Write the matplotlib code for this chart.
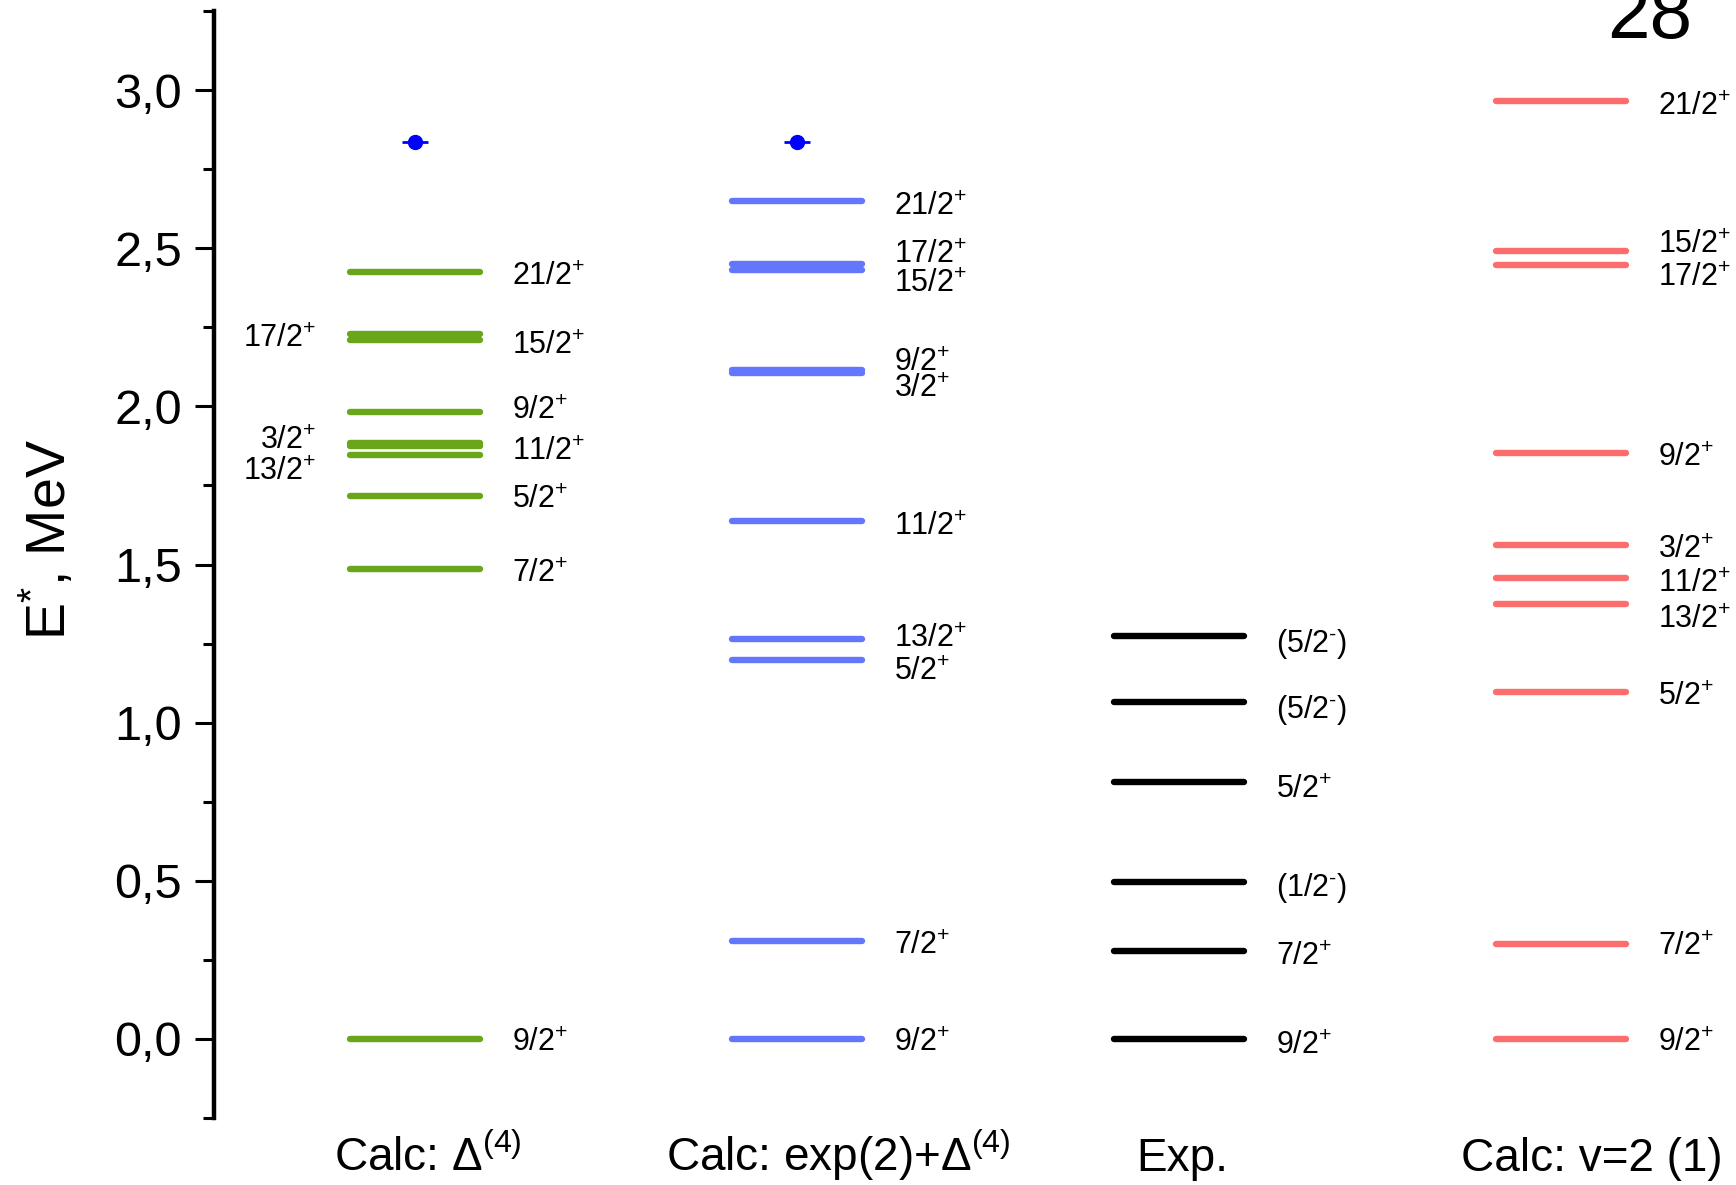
import numpy as np
import matplotlib
matplotlib.use("Agg")
import matplotlib.pyplot as plt
from matplotlib.ticker import MultipleLocator
import matplotlib.transforms as mtransforms

plt.rcParams["font.family"] = ["Liberation Sans", "DejaVu Sans"]
plt.rcParams["mathtext.fontset"] = "custom"
plt.rcParams["mathtext.rm"] = "Liberation Sans"
plt.rcParams["mathtext.it"] = "Liberation Sans:italic"
plt.rcParams["mathtext.bf"] = "Liberation Sans:bold"

# level schemes, energies in MeV
calc_d4_E = [0.0, 1.485, 1.718, 1.847, 1.875, 1.883, 1.981, 2.209, 2.228, 2.424]
calc_d4_J = ["9/2+", "7/2+", "5/2+", "13/2+", "11/2+", "3/2+", "9/2+", "15/2+", "17/2+", "21/2+"]
calc_d4_side = ["r", "r", "r", "l", "r", "l", "r", "r", "l", "r"]
calc_d4_label_E = [-0.004, 1.481, 1.713, 1.802, 1.865, 1.899, 1.994, 2.202, 2.223, 2.418]

calc_exp_E = [0.0, 0.311, 1.199, 1.263, 1.638, 2.104, 2.115, 2.431, 2.450, 2.648]
calc_exp_J = ["9/2+", "7/2+", "5/2+", "13/2+", "11/2+", "3/2+", "9/2+", "15/2+", "17/2+", "21/2+"]
calc_exp_label_E = [-0.004, 0.304, 1.170, 1.273, 1.630, 2.065, 2.146, 2.397, 2.488, 2.639]

exp_E = [0.0, 0.279, 0.496, 0.814, 1.065, 1.273]
exp_J = ["9/2+", "7/2+", "(1/2-)", "5/2+", "(5/2-)", "(5/2-)"]
exp_label_E = [-0.011, 0.270, 0.486, 0.797, 1.050, 1.260]

calc_v2_E = [0.0, 0.301, 1.097, 1.374, 1.456, 1.563, 1.854, 2.448, 2.491, 2.965]
calc_v2_J = ["9/2+", "7/2+", "5/2+", "13/2+", "11/2+", "3/2+", "9/2+", "17/2+", "15/2+", "21/2+"]
calc_v2_label_E = [-0.004, 0.301, 1.091, 1.334, 1.448, 1.557, 1.847, 2.415, 2.520, 2.956]

# extra points above the first two calculated schemes
point_E = [2.835, 2.835]

column_names = [r"Calc: $\Delta^{(4)}$", r"Calc: exp(2)+$\Delta^{(4)}$", "Exp.", "Calc: v=2 (1)"]
column_colors = ["#6aa61a", "#6277fb", "#000000", "#fc6e6e"]


def jpi_text(s):
    # "21/2+" -> 21/2 with superscript parity, keep brackets outside
    if s.startswith("("):
        core, parity = s[1:-2], s[-2]
    else:
        core, parity = s[:-1], s[-1]
    if parity == "-":
        sup = r"$^{\text{-}}$"
    else:
        sup = r"$^{+}$"
    if s.startswith("("):
        return "(" + core + sup + ")"
    return core + sup


fig = plt.figure(figsize=(17.36, 11.85), dpi=100)
ax = fig.add_axes([214 / 1736, 0.0565, 1 - 214 / 1736, 0.9907 - 0.0565])
ax.set_xlim(0.474, 4.458)
ax.set_ylim(-0.25, 3.25)

half = 0.17
schemes = [
    (calc_d4_E, calc_d4_J, calc_d4_label_E, calc_d4_side),
    (calc_exp_E, calc_exp_J, calc_exp_label_E, None),
    (exp_E, exp_J, exp_label_E, None),
    (calc_v2_E, calc_v2_J, calc_v2_label_E, None),
]

for col, (energies, spins, label_E, sides) in enumerate(schemes):
    xc = col + 1
    color = column_colors[col]
    for i, e in enumerate(energies):
        ax.plot([xc - half, xc + half], [e, e], color=color, lw=4.6,
                solid_capstyle="round")
        side = sides[i] if sides is not None else "r"
        if side == "r":
            ax.annotate(jpi_text(spins[i]), (xc + 0.253, label_E[i]), xytext=(0, -8),
                        textcoords="offset points", ha="left", va="baseline", fontsize=22)
        else:
            ax.annotate(jpi_text(spins[i]), (xc - 0.258, label_E[i]), xytext=(0, -8),
                        textcoords="offset points", ha="right", va="baseline", fontsize=22)

ax.errorbar([1, 2], point_E, xerr=0.035, fmt="o", color="#0000ff", ms=10,
            elinewidth=2, capsize=0)

# column names under the schemes
name_shift = [0.035, 0.107, 0.009, 0.081]
trans = mtransforms.blended_transform_factory(ax.transData, fig.transFigure)
for col, name in enumerate(column_names):
    ax.text(col + 1 + name_shift[col], 0.012, name, transform=trans, ha="center",
            va="baseline", fontsize=33)

for side in ["top", "right", "bottom"]:
    ax.spines[side].set_visible(False)
ax.spines["left"].set_linewidth(3.2)
ax.set_xticks([])
ax.yaxis.set_minor_locator(MultipleLocator(0.25))
ticks = list(np.arange(0.0, 3.01, 0.5))
ax.set_yticks(ticks)
ax.set_yticklabels([("%.1f" % t).replace(".", ",") for t in ticks])
ax.tick_params(axis="y", which="major", length=14, width=2.2, labelsize=35, pad=9)
ax.tick_params(axis="y", which="minor", length=8, width=2.2)

fig.text(48 / 1736, 0.545, r"E$^{*}$, MeV", rotation=90, ha="center", va="center",
         fontsize=40)
fig.text(1607 / 1736, 1 - 38 / 1185, "28", ha="left", va="baseline", fontsize=55)

fig.savefig("out.png", dpi=100)
